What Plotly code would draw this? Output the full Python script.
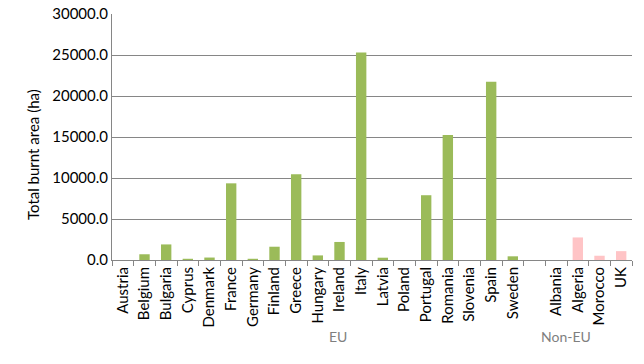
import plotly.graph_objects as go

eu_countries = ["Austria", "Belgium", "Bulgaria", "Cyprus", "Denmark", "France", "Germany",
                "Finland", "Greece", "Hungary", "Ireland", "Italy", "Latvia", "Poland",
                "Portugal", "Romania", "Slovenia", "Spain", "Sweden"]
eu_values = [0, 700, 1900, 150, 300, 9350, 150, 1620, 10450, 560, 2200, 25300, 280, 0,
             7900, 15250, 0, 21750, 450]

non_eu_countries = ["Albania", "Algeria", "Morocco", "UK"]
non_eu_values = [0, 2750, 520, 1080]

spacer = " "
y_ticks = [0, 5000, 10000, 15000, 20000, 25000, 30000]

all_cats = eu_countries + [spacer] + non_eu_countries

W, H = 644, 364
ML, MR, MT, MB = 112, 12, 14, 104
pw = W - ML - MR
ph = H - MT - MB


def px_x(px):
    return (px - ML) / pw


def px_y(py):
    return (H - MB - py) / ph


fig = go.Figure()
fig.add_trace(go.Bar(x=eu_countries, y=eu_values, marker_color="#9BBB59",
                     marker_line_width=0, name="EU"))
fig.add_trace(go.Bar(x=non_eu_countries, y=non_eu_values, marker_color="#FFC4C6",
                     marker_line_width=0, name="Non-EU"))

fig.update_layout(
    width=W, height=H,
    margin=dict(l=ML, r=MR, t=MT, b=MB),
    paper_bgcolor="white", plot_bgcolor="white",
    showlegend=False,
    bargap=0.52,
    barmode="overlay",
    font=dict(family="Lato, Open Sans, sans-serif", size=15, color="#000000"),
)
fig.update_xaxes(
    type="category", categoryorder="array", categoryarray=all_cats,
    range=[-0.5, len(all_cats) - 0.5],
    tickson="boundaries", ticks="outside", ticklen=5, tickcolor="#868686",
    showline=True, linecolor="#868686", linewidth=1,
    tickangle=-90, tickfont=dict(size=15, color="#000000"),
    showgrid=False, automargin=False,
)
fig.update_yaxes(
    range=[0, 30000], tickvals=y_ticks, tickformat=".1f",
    showgrid=True, gridcolor="#868686", gridwidth=1,
    showline=True, linecolor="#868686", linewidth=1,
    ticks="", tickfont=dict(size=15, color="#000000"),
    zeroline=False, automargin=False,
)

fig.add_annotation(text="Total burnt area (ha)", textangle=-90,
                   x=px_x(22), y=px_y(155), xref="paper", yref="paper",
                   showarrow=False, font=dict(size=15, color="#000000"))
fig.add_annotation(text="EU", x=px_x(338), y=px_y(347), xref="paper", yref="paper",
                   showarrow=False, font=dict(size=14, color="#7F7F7F"))
fig.add_annotation(text="Non-EU", x=px_x(593), y=px_y(347), xref="paper", yref="paper",
                   showarrow=False, font=dict(size=14, color="#7F7F7F"))

fig.write_html("out.html", config={"displayModeBar": False, "staticPlot": True},
               post_script="document.body.style.margin='0';document.body.style.overflow='hidden';")
